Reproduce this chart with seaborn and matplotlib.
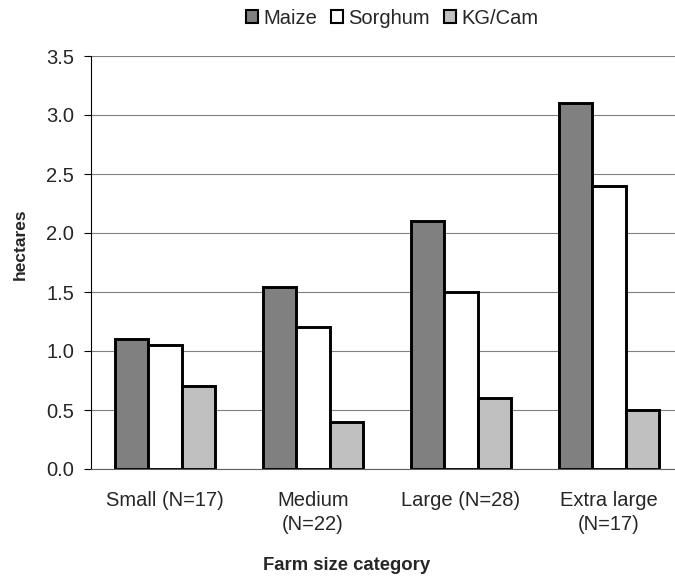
import pandas as pd
import seaborn as sns
import matplotlib.pyplot as plt
from matplotlib.patches import Patch

# values
categories = ["Small (N=17)", "Medium\n(N=22)", "Large (N=28)", "Extra large\n(N=17)"]
crops = ["Maize", "Sorghum", "KG/Cam"]
maize = [1.1, 1.54, 2.1, 3.1]
sorghum = [1.05, 1.2, 1.5, 2.4]
kgcam = [0.7, 0.4, 0.6, 0.5]
colors = ["#808080", "#ffffff", "#c0c0c0"]

rows = []
for crop, vals in zip(crops, [maize, sorghum, kgcam]):
    for cat, v in zip(categories, vals):
        rows.append({"category": cat, "crop": crop, "hectares": v})
df = pd.DataFrame(rows)

sns.set_style("white")
plt.rcParams["font.family"] = ["Liberation Sans", "DejaVu Sans"]

fig = plt.figure(figsize=(6.75, 5.77), dpi=100)
ax = fig.add_axes([91 / 675, 108 / 577, 592 / 675, 413 / 577])

sns.barplot(data=df, x="category", y="hectares", hue="crop", hue_order=crops,
            order=categories, palette=colors, width=0.67, edgecolor="black",
            linewidth=2.1, saturation=1, legend=False, ax=ax)

ax.set_xlim(-0.5, 3.5)
ax.set_ylim(0, 3.5)
ax.set_yticks([i * 0.5 for i in range(8)])
ax.set_yticklabels([f"{i * 0.5:.1f}" for i in range(8)])
ax.yaxis.grid(True, color="#808080", linewidth=0.8)
ax.set_axisbelow(True)
for s in ["top", "right"]:
    ax.spines[s].set_visible(False)
ax.spines["left"].set_color("black")
ax.spines["bottom"].set_color("#606060")
ax.spines["left"].set_linewidth(0.8)
ax.spines["bottom"].set_linewidth(0.8)

# category boundaries as ticks, labels at centres
ax.set_xticks([-0.5, 0.5, 1.5, 2.5], minor=True)
ax.tick_params(axis="x", which="minor", length=5, color="#606060", width=0.8)
ax.tick_params(axis="x", which="major", length=0, pad=16, labelsize=14.5)
ax.tick_params(axis="y", length=5, width=0.8, color="black", pad=7, labelsize=14.5,
               left=True)
for lab in ax.get_xticklabels():
    lab.set_linespacing(1.3)
ax.set_xlabel("")
ax.set_ylabel("")

fig.text(20 / 675, 1 - 244 / 577, "hectares", rotation=90, ha="center", va="center",
         fontsize=12.5, fontweight="bold")
fig.text(347 / 675, 1 - 565 / 577, "Farm size category", ha="center", va="center",
         fontsize=13.3, fontweight="bold")

handles = [Patch(facecolor=c, edgecolor="black", linewidth=1.5) for c in colors]
fig.legend(handles, crops, loc="center", bbox_to_anchor=(392 / 675, 1 - 18 / 577),
           ncol=3, frameon=False, fontsize=14.5, handlelength=0.6, handleheight=0.6,
           handletextpad=0.25, columnspacing=0.7, borderpad=0)

fig.savefig("out.png", dpi=100)
